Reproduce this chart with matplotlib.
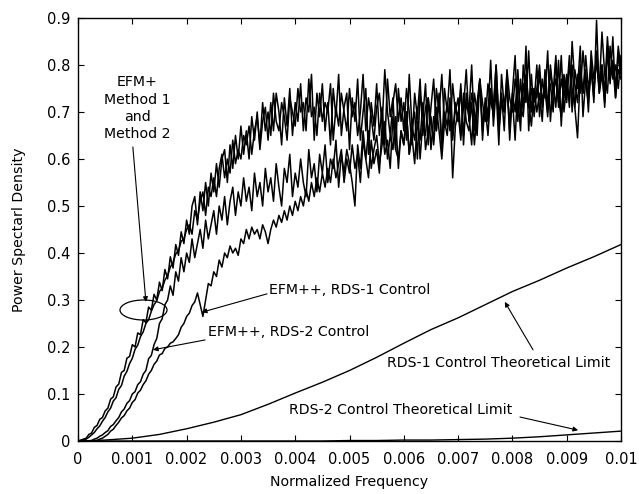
import matplotlib
matplotlib.use("Agg")
import matplotlib.pyplot as plt
import numpy as np
from matplotlib.patches import Ellipse

# frequency grid for the measured spectra (step 0.00005)
freq = np.linspace(0, 0.01, 201)

# EFM+ method 1
efm_m1 = [0, 0.002, 0.004, 0.006, 0.014, 0.017, 0.029, 0.033, 0.046, 0.050,
          0.064, 0.070, 0.089, 0.094, 0.115, 0.121, 0.146, 0.150, 0.176, 0.180,
          0.205, 0.200, 0.230, 0.226, 0.258, 0.252, 0.285, 0.278, 0.312, 0.300,
          0.338, 0.320, 0.365, 0.345, 0.392, 0.368, 0.418, 0.395, 0.445, 0.420,
          0.47, 0.44, 0.50, 0.52, 0.46, 0.53, 0.49, 0.55, 0.50, 0.57,
          0.53, 0.59, 0.54, 0.60, 0.62, 0.55, 0.63, 0.58, 0.65, 0.60,
          0.67, 0.61, 0.66, 0.60, 0.69, 0.64, 0.70, 0.62, 0.68, 0.71,
          0.64, 0.72, 0.66, 0.74, 0.70, 0.63, 0.73, 0.67, 0.75, 0.65,
          0.72, 0.68, 0.76, 0.66, 0.73, 0.70, 0.78, 0.64, 0.74, 0.69,
          0.76, 0.66, 0.72, 0.63, 0.75, 0.69, 0.78, 0.65, 0.71, 0.74,
          0.62, 0.73, 0.68, 0.77, 0.64, 0.70, 0.75, 0.61, 0.72, 0.67,
          0.76, 0.65, 0.71, 0.63, 0.77, 0.69, 0.73, 0.62, 0.75, 0.68,
          0.72, 0.64, 0.78, 0.67, 0.70, 0.60, 0.74, 0.69, 0.76, 0.63,
          0.71, 0.77, 0.66, 0.73, 0.62, 0.75, 0.70, 0.79, 0.65, 0.72,
          0.68, 0.76, 0.63, 0.74, 0.70, 0.80, 0.66, 0.72, 0.77, 0.64,
          0.73, 0.69, 0.81, 0.67, 0.75, 0.63, 0.78, 0.71, 0.76, 0.66,
          0.74, 0.82, 0.68, 0.77, 0.70, 0.84, 0.66, 0.75, 0.72, 0.80,
          0.69, 0.77, 0.73, 0.83, 0.68, 0.76, 0.71, 0.81, 0.67, 0.78,
          0.74, 0.82, 0.70, 0.79, 0.75, 0.84, 0.69, 0.77, 0.73, 0.81,
          0.72, 0.895, 0.74, 0.80, 0.71, 0.83, 0.76, 0.86, 0.73, 0.79,
          0.77]

# EFM+ method 2
efm_m2 = [0, 0, 0.002, 0.004, 0.008, 0.013, 0.018, 0.026, 0.032, 0.042,
          0.050, 0.062, 0.070, 0.085, 0.092, 0.110, 0.118, 0.138, 0.148, 0.165,
          0.176, 0.195, 0.204, 0.222, 0.232, 0.250, 0.258, 0.276, 0.290, 0.298,
          0.318, 0.325, 0.342, 0.352, 0.370, 0.380, 0.398, 0.405, 0.425, 0.430,
          0.45, 0.46, 0.44, 0.49, 0.47, 0.51, 0.53, 0.48, 0.54, 0.52,
          0.56, 0.52, 0.58, 0.61, 0.56, 0.60, 0.57, 0.64, 0.59, 0.62,
          0.60, 0.65, 0.63, 0.67, 0.61, 0.66, 0.69, 0.63, 0.72, 0.66,
          0.70, 0.65, 0.74, 0.68, 0.66, 0.72, 0.69, 0.64, 0.73, 0.70,
          0.67, 0.75, 0.70, 0.72, 0.66, 0.77, 0.69, 0.71, 0.65, 0.74,
          0.68, 0.72, 0.70, 0.76, 0.64, 0.71, 0.67, 0.74, 0.70, 0.66,
          0.75, 0.69, 0.72, 0.65, 0.70, 0.78, 0.66, 0.73, 0.69, 0.64,
          0.71, 0.74, 0.67, 0.79, 0.70, 0.65, 0.72, 0.76, 0.68, 0.73,
          0.66, 0.75, 0.70, 0.63, 0.74, 0.69, 0.77, 0.65, 0.71, 0.73,
          0.68, 0.64, 0.75, 0.70, 0.78, 0.67, 0.72, 0.66, 0.76, 0.70,
          0.73, 0.65, 0.71, 0.79, 0.68, 0.74, 0.70, 0.65, 0.77, 0.72,
          0.68, 0.76, 0.72, 0.70, 0.80, 0.69, 0.74, 0.66, 0.79, 0.73,
          0.70, 0.77, 0.73, 0.66, 0.80, 0.74, 0.71, 0.78, 0.69, 0.75,
          0.80, 0.72, 0.76, 0.70, 0.79, 0.74, 0.82, 0.71, 0.77, 0.73,
          0.78, 0.71, 0.85, 0.76, 0.72, 0.80, 0.74, 0.79, 0.70, 0.83,
          0.77, 0.81, 0.75, 0.87, 0.78, 0.74, 0.84, 0.77, 0.80, 0.75,
          0.82]

# EFM++ (middle trace)
efm_pp_a = [0, 0, 0, 0, 0, 0.001, 0.004, 0.006, 0.010, 0.013,
            0.018, 0.022, 0.031, 0.035, 0.043, 0.050, 0.062, 0.068, 0.080, 0.086,
            0.100, 0.105, 0.120, 0.126, 0.142, 0.150, 0.175, 0.182, 0.205, 0.218,
            0.25, 0.26, 0.29, 0.30, 0.33, 0.31, 0.36, 0.34, 0.39, 0.36,
            0.40, 0.38, 0.43, 0.39, 0.42, 0.45, 0.41, 0.47, 0.43, 0.46,
            0.49, 0.44, 0.50, 0.47, 0.52, 0.46, 0.51, 0.54, 0.48, 0.53,
            0.50, 0.56, 0.51, 0.54, 0.49, 0.57, 0.52, 0.55, 0.50, 0.58,
            0.53, 0.56, 0.51, 0.59, 0.54, 0.50, 0.58, 0.55, 0.61, 0.52,
            0.57, 0.54, 0.60, 0.55, 0.52, 0.62, 0.56, 0.59, 0.53, 0.61,
            0.57, 0.63, 0.55, 0.60, 0.58, 0.64, 0.54, 0.61, 0.57, 0.62,
            0.59, 0.55, 0.50, 0.63, 0.58, 0.66, 0.60, 0.56, 0.64, 0.59,
            0.62, 0.57, 0.67, 0.61, 0.64, 0.58, 0.69, 0.62, 0.60, 0.66,
            0.63, 0.70, 0.61, 0.65, 0.59, 0.68, 0.64, 0.72, 0.62, 0.66,
            0.69, 0.63, 0.71, 0.66, 0.60, 0.68, 0.65, 0.73, 0.56, 0.67,
            0.70, 0.64, 0.74, 0.68, 0.66, 0.72, 0.63, 0.70, 0.76, 0.67,
            0.71, 0.65, 0.74, 0.69, 0.77, 0.66, 0.72, 0.70, 0.75, 0.68,
            0.73, 0.64, 0.76, 0.71, 0.69, 0.78, 0.72, 0.67, 0.75, 0.70,
            0.74, 0.68, 0.79, 0.72, 0.76, 0.70, 0.81, 0.73, 0.69, 0.77,
            0.72, 0.80, 0.75, 0.71, 0.78, 0.74, 0.83, 0.76, 0.72, 0.79,
            0.75, 0.81, 0.74, 0.78, 0.72, 0.84, 0.77, 0.80, 0.73, 0.82,
            0.78]

# EFM++ (lowest trace)
efm_pp_b = [0, 0, 0, 0, 0, 0, 0, 0.001, 0.004, 0.006,
            0.010, 0.014, 0.021, 0.025, 0.033, 0.040, 0.049, 0.054, 0.064, 0.070,
            0.082, 0.088, 0.102, 0.108, 0.120, 0.128, 0.142, 0.150, 0.163, 0.170,
            0.183, 0.186, 0.197, 0.200, 0.208, 0.211, 0.218, 0.226, 0.242, 0.250,
            0.265, 0.272, 0.288, 0.296, 0.315, 0.290, 0.265, 0.30, 0.335, 0.33,
            0.36, 0.35, 0.385, 0.37, 0.40, 0.39, 0.415, 0.40, 0.41, 0.395,
            0.43, 0.42, 0.45, 0.43, 0.455, 0.44, 0.45, 0.43, 0.46, 0.445,
            0.42, 0.45, 0.47, 0.455, 0.48, 0.465, 0.49, 0.47, 0.50, 0.48,
            0.51, 0.49, 0.52, 0.50, 0.535, 0.51, 0.55, 0.52, 0.56, 0.53,
            0.57, 0.54, 0.58, 0.55, 0.60, 0.56, 0.59, 0.62, 0.55, 0.60,
            0.57, 0.63, 0.58, 0.61, 0.55, 0.64, 0.60, 0.66, 0.58, 0.62,
            0.65, 0.59, 0.63, 0.68, 0.60, 0.65, 0.62, 0.69, 0.58, 0.66,
            0.63, 0.70, 0.61, 0.67, 0.64, 0.71, 0.60, 0.68, 0.65, 0.73,
            0.62, 0.69, 0.66, 0.74, 0.63, 0.70, 0.67, 0.72, 0.64, 0.71,
            0.68, 0.75, 0.65, 0.72, 0.69, 0.63, 0.74, 0.70, 0.77, 0.66,
            0.72, 0.68, 0.75, 0.71, 0.80, 0.67, 0.73, 0.70, 0.78, 0.64,
            0.74, 0.70, 0.79, 0.69, 0.76, 0.72, 0.83, 0.70, 0.75, 0.73,
            0.78, 0.71, 0.75, 0.69, 0.80, 0.74, 0.77, 0.72, 0.82, 0.70,
            0.76, 0.73, 0.80, 0.71, 0.645, 0.78, 0.74, 0.82, 0.75, 0.79,
            0.73, 0.83, 0.76, 0.80, 0.74, 0.86, 0.78, 0.81, 0.75, 0.84,
            0.79]

# theoretical limits (step 0.0005)
freq_lim = np.linspace(0, 0.01, 21)
rds1_limit = [0.000, 0.002, 0.006, 0.014, 0.026, 0.040, 0.056, 0.078, 0.102, 0.125,
              0.150, 0.178, 0.208, 0.237, 0.262, 0.290, 0.318, 0.342, 0.368, 0.392,
              0.418]
rds2_limit = [0.000, 0.000, 0.000, 0.000, 0.000, 0.000, 0.000, 0.000, 0.000, 0.000,
              0.001, 0.001, 0.002, 0.002, 0.003, 0.004, 0.006, 0.009, 0.013, 0.017,
              0.021]

xtick_vals = np.linspace(0, 0.01, 11)
xtick_labels = ['0', '0.001', '0.002', '0.003', '0.004', '0.005',
                '0.006', '0.007', '0.008', '0.009', '0.01']
ytick_vals = np.linspace(0, 0.9, 10)
ytick_labels = ['0', '0.1', '0.2', '0.3', '0.4', '0.5', '0.6', '0.7', '0.8', '0.9']

plt.rcParams['font.family'] = 'DejaVu Sans'
fs_tick = 10.5
fs = 10.2

fig = plt.figure(figsize=(6.39, 4.94), dpi=100)
ax = fig.add_axes([0.1221, 0.1073, 0.8497, 0.8563])

lw = 1.1
for series in (efm_m1, efm_m2, efm_pp_a, efm_pp_b):
    ax.plot(freq, series, color='black', lw=lw)
ax.plot(freq_lim, rds1_limit, color='black', lw=1.0)
ax.plot(freq_lim, rds2_limit, color='black', lw=1.0)

ax.set_xlim(0, 0.01)
ax.set_ylim(0, 0.9)
ax.set_xticks(xtick_vals)
ax.set_xticklabels(xtick_labels, fontsize=fs_tick)
ax.set_yticks(ytick_vals)
ax.set_yticklabels(ytick_labels, fontsize=fs_tick)
ax.tick_params(direction='in', length=4, width=0.8, top=True, right=True)
ax.tick_params(axis='x', pad=8)
ax.tick_params(axis='y', pad=5.5)
for s in ax.spines.values():
    s.set_linewidth(1.0)
ax.set_xlabel('Normalized Frequency', fontsize=fs, labelpad=6)
ax.set_ylabel('Power Spectarl Density', fontsize=fs, labelpad=15)

arrow = dict(arrowstyle='-|>', color='black', lw=0.8, mutation_scale=7,
             shrinkA=0, shrinkB=0)

ax.add_patch(Ellipse((0.001206, 0.2787), 0.000866, 0.0426, fill=False,
                     edgecolor='black', lw=0.9))
ax.text(0.00109, 0.708, 'EFM+\nMethod 1\nand\nMethod 2', ha='center', va='center',
        fontsize=fs, linespacing=1.3)
ax.annotate('', xy=(0.00125, 0.296), xytext=(0.00101, 0.6255), arrowprops=arrow)

ax.text(0.00352, 0.321, 'EFM++, RDS-1 Control', ha='left', va='center', fontsize=fs)
ax.annotate('', xy=(0.00228, 0.274), xytext=(0.00348, 0.313), arrowprops=arrow)

ax.text(0.00239, 0.232, 'EFM++, RDS-2 Control', ha='left', va='center', fontsize=fs)
ax.annotate('', xy=(0.00138, 0.194), xytext=(0.00234, 0.215), arrowprops=arrow)

ax.text(0.00569, 0.166, 'RDS-1 Control Theoretical Limit', ha='left', va='center',
        fontsize=fs)
ax.annotate('', xy=(0.00786, 0.296), xytext=(0.00838, 0.194), arrowprops=arrow)

ax.text(0.00389, 0.066, 'RDS-2 Control Theoretical Limit', ha='left', va='center',
        fontsize=fs)
ax.annotate('', xy=(0.00921, 0.023), xytext=(0.00814, 0.051), arrowprops=arrow)

fig.savefig('out.png', dpi=100)
